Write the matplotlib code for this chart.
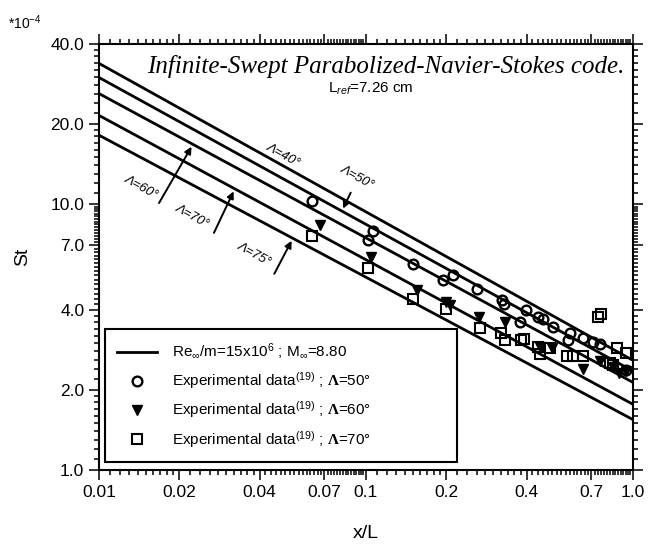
import numpy as np
import matplotlib
matplotlib.use("Agg")
import matplotlib.pyplot as plt
from matplotlib.ticker import FixedLocator, FixedFormatter, NullFormatter

plt.rcParams['font.family'] = ['Liberation Sans', 'DejaVu Sans']
plt.rcParams['mathtext.fontset'] = 'custom'
plt.rcParams['mathtext.rm'] = 'Liberation Sans'
plt.rcParams['mathtext.it'] = 'Liberation Sans:italic'
plt.rcParams['mathtext.bf'] = 'Liberation Serif:bold'

# ---------------- data (St in units of 1e-4) ----------------
x_line = [0.01, 0.1, 1.0]
st_40 = [33.9, 9.37, 2.59]
st_50 = [30.0, 8.41, 2.36]
st_60 = [26.1, 7.48, 2.14]
st_70 = [21.6, 6.19, 1.77]
st_75 = [18.2, 5.32, 1.55]

x_exp50 = [0.0626, 0.106, 0.102, 0.150, 0.195, 0.212, 0.260, 0.325, 0.329, 0.397,
           0.377, 0.442, 0.461, 0.503, 0.581, 0.573, 0.652, 0.710, 0.752, 0.947]
st_exp50 = [10.29, 7.91, 7.37, 5.95, 5.18, 5.41, 4.78, 4.36, 4.21, 4.00,
            3.61, 3.77, 3.69, 3.46, 3.28, 3.08, 3.15, 3.04, 2.98, 2.38]

x_exp60 = [0.0672, 0.105, 0.155, 0.2005, 0.206, 0.265, 0.331, 0.448, 0.500,
           0.652, 0.752, 0.840, 0.890, 0.947]
st_exp60 = [8.34, 6.34, 4.75, 4.29, 4.17, 3.77, 3.61, 2.91, 2.87,
            2.41, 2.58, 2.45, 2.32, 2.35]

x_exp70 = [0.0626, 0.102, 0.1496, 0.2005, 0.267, 0.322, 0.331, 0.380, 0.390, 0.442,
           0.448, 0.489, 0.565, 0.597, 0.652, 0.741, 0.763, 0.870, 0.947, 0.820, 0.840]
st_exp70 = [7.58, 5.78, 4.42, 4.02, 3.43, 3.28, 3.08, 3.08, 3.12, 2.91,
            2.73, 2.87, 2.68, 2.68, 2.68, 3.77, 3.88, 2.89, 2.75, 2.52, 2.48]

x_ticks = [0.01, 0.02, 0.04, 0.07, 0.1, 0.2, 0.4, 0.7, 1.0]
x_ticklabels = ["0.01", "0.02", "0.04", "0.07", "0.1", "0.2", "0.4", "0.7", "1.0"]
y_ticks = [1.0, 2.0, 4.0, 7.0, 10.0, 20.0, 40.0]
y_ticklabels = ["1.0", "2.0", "4.0", "7.0", "10.0", "20.0", "40.0"]

line_labels = ["Λ=40°", "Λ=50°", "Λ=60°", "Λ=70°", "Λ=75°"]


def minor_positions(lo, hi, majors):
    out = []
    a = lo
    while a < hi * 0.999:
        for k in range(1, 10):
            out.append(a * (1 + 0.1 * k))
        for k in range(1, 40):
            out.append(a * (2 + 0.2 * k))
        a *= 10
    res = []
    for v in out:
        if lo < v < hi and all(abs(v - m) / m > 1e-6 for m in majors):
            res.append(v)
    return res


fig = plt.figure(figsize=(6.55, 5.46), dpi=100)
ax = fig.add_axes([0.151, 0.139, 0.815, 0.780])
ax.set_xscale('log')
ax.set_yscale('log')
ax.set_xlim(0.01, 1.0)
ax.set_ylim(1.0, 40.0)

lines = [st_40, st_50, st_60, st_70, st_75]
for i, s in enumerate(lines):
    ax.plot(x_line, s, color='black', lw=2.0,
            label=r"Re$_\infty$/m=15x10$^6$ ; M$_\infty$=8.80" if i == 0 else None)

ax.plot(x_exp50, st_exp50, 'o', ms=7, mfc='none', mec='black', mew=1.7,
        label=r"Experimental data$^{(19)}$ ; $\mathbf{\Lambda}$=50°")
ax.plot(x_exp60, st_exp60, 'v', ms=7, mfc='black', mec='black',
        label=r"Experimental data$^{(19)}$ ; $\mathbf{\Lambda}$=60°")
ax.plot(x_exp70, st_exp70, 's', ms=7, mfc='none', mec='black', mew=1.5,
        label=r"Experimental data$^{(19)}$ ; $\mathbf{\Lambda}$=70°")

# ticks
ax.xaxis.set_major_locator(FixedLocator(x_ticks))
ax.xaxis.set_major_formatter(FixedFormatter(x_ticklabels))
ax.xaxis.set_minor_locator(FixedLocator(minor_positions(0.01, 1.0, x_ticks)))
ax.xaxis.set_minor_formatter(NullFormatter())
ax.yaxis.set_major_locator(FixedLocator(y_ticks))
ax.yaxis.set_major_formatter(FixedFormatter(y_ticklabels))
ax.yaxis.set_minor_locator(FixedLocator(minor_positions(1.0, 100.0, y_ticks)))
ax.yaxis.set_minor_formatter(NullFormatter())
ax.tick_params(which='both', direction='out', top=True, right=True, width=1.1)
ax.tick_params(which='major', length=7, labelsize=12.5)
ax.tick_params(which='minor', length=3.5)
for sp in ax.spines.values():
    sp.set_linewidth(1.5)

ax.set_xlabel("x/L", fontsize=14, labelpad=18)
ax.set_ylabel("St", fontsize=14, labelpad=14)

fig.text(0.012, 0.975, r"*10$^{-4}$", fontsize=10, va='top', ha='left')

ax.text(0.985, 0.975, "Infinite-Swept Parabolized-Navier-Stokes code.",
        transform=ax.transAxes, ha='right', va='top', fontsize=18,
        family='Liberation Serif', style='italic')
ax.text(0.43, 0.895, r"L$_{ref}$=7.26 cm", transform=ax.transAxes,
        ha='left', va='center', fontsize=11)


def line_val(s, x):
    return 10 ** np.interp(np.log10(x), np.log10(x_line), np.log10(s))


ang = -29
arrow_kw = dict(arrowstyle='-|>', color='black', lw=1.4, mutation_scale=10)
# Lambda=40 label just above top line
ax.text(0.0489, 15.3, line_labels[0], rotation=ang, rotation_mode='anchor',
        ha='center', va='center', fontsize=9.5, style='italic')
# Lambda=50 label with arrow down to second line
ax.annotate("", xy=(0.0813, line_val(st_50, 0.0813)), xytext=(0.0887, 11.3),
            arrowprops=arrow_kw)
ax.text(0.093, 12.6, line_labels[1], rotation=ang, rotation_mode='anchor',
        ha='center', va='center', fontsize=9.5, style='italic')
# Lambda=60
ax.annotate("", xy=(0.0225, line_val(st_60, 0.0225)), xytext=(0.0166, 9.9),
            arrowprops=arrow_kw)
ax.text(0.01436, 11.6, line_labels[2], rotation=ang, rotation_mode='anchor',
        ha='center', va='center', fontsize=9.5, style='italic')
# Lambda=70
ax.annotate("", xy=(0.0323, line_val(st_70, 0.0323)), xytext=(0.0267, 7.64),
            arrowprops=arrow_kw)
ax.text(0.0223, 9.0, line_labels[3], rotation=ang, rotation_mode='anchor',
        ha='center', va='center', fontsize=9.5, style='italic')
# Lambda=75
ax.annotate("", xy=(0.0533, line_val(st_75, 0.0533)), xytext=(0.0449, 5.36),
            arrowprops=arrow_kw)
ax.text(0.038, 6.48, line_labels[4], rotation=ang, rotation_mode='anchor',
        ha='center', va='center', fontsize=9.5, style='italic')

leg = ax.legend(loc='lower left', bbox_to_anchor=(0.011, 0.019, 0.66, 0.277),
                mode='expand', fontsize=11, frameon=True, fancybox=False,
                edgecolor='black', borderaxespad=0, handlelength=2.6,
                labelspacing=0.55, borderpad=0.8, handletextpad=1.0)
leg.get_frame().set_linewidth(1.5)
leg.get_frame().set_alpha(1)

fig.savefig("out.png", dpi=100)
